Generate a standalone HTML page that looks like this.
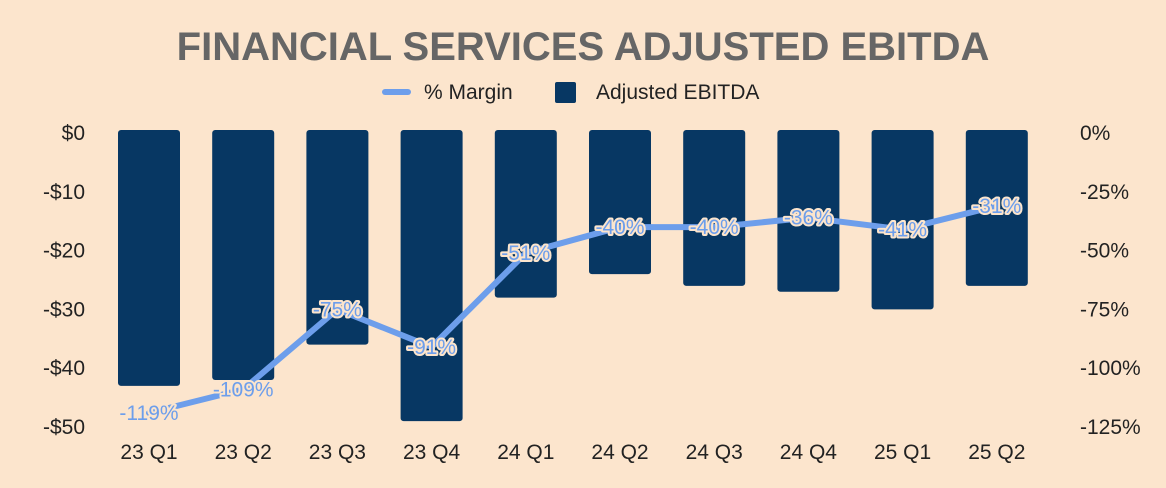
<!DOCTYPE html>
<html><head><meta charset="utf-8"><style>
body{margin:0;background:#fce5cd;}
svg{display:block;font-family:"Liberation Sans",sans-serif;}
</style></head><body>
<svg id="c" width="1166" height="488">
<rect width="1166" height="488" fill="#fce5cd"/>
<text x="583" y="60" text-anchor="middle" font-size="40" font-weight="bold" fill="#666666">FINANCIAL SERVICES ADJUSTED EBITDA</text>
<g>
<g><line x1="385" y1="92" x2="408" y2="92" stroke="#6d9eeb" stroke-width="6" stroke-linecap="round"/><text x="424" y="99" font-size="21" fill="#222">% Margin</text></g>
<g><rect x="555" y="82" width="21" height="21" rx="2" fill="#073763"/><text x="596" y="99" font-size="21" fill="#222">Adjusted EBITDA</text></g>
</g>
<g id="plot"></g>
</svg>
<script>
const categories=["23 Q1","23 Q2","23 Q3","23 Q4","24 Q1","24 Q2","24 Q3","24 Q4","25 Q1","25 Q2"];
const ebitda=[-43,-42,-36,-49,-28,-24,-26,-27,-30,-26];
const margin=[-119,-109,-75,-91,-51,-40,-40,-36,-41,-31];
const leftTicks=[0,-10,-20,-30,-40,-50];
const rightTicks=[0,-25,-50,-75,-100,-125];
const NS="http://www.w3.org/2000/svg";
const g=document.getElementById('plot');
const top0=133,bot=427;
const yL=v=>top0+(v/-50)*(bot-top0);
const yR=v=>top0+(v/-125)*(bot-top0);
const xC=i=>149+i*94.2;
function mk(t,a,p){const e=document.createElementNS(NS,t);for(const k in a)e.setAttribute(k,a[k]);(p||g).appendChild(e);return e;}
leftTicks.forEach(v=>{const t=mk('text',{x:85,y:yL(v)+7,'text-anchor':'end','font-size':21,fill:'#222'});t.textContent=(v<0?'-$':'$')+Math.abs(v);

});
rightTicks.forEach(v=>{const t=mk('text',{x:1080,y:yR(v)+7,'font-size':21,fill:'#222'});t.textContent=v+'%';

});
categories.forEach((c,i)=>{const t=mk('text',{x:xC(i),y:459,'text-anchor':'middle','font-size':21,fill:'#222'});t.textContent=c;

});
ebitda.forEach((v,i)=>{const h=yL(v)-top0;const r=mk('rect',{x:xC(i)-31,y:top0-3,width:62,height:h+3,rx:3,fill:'#073763'});

});
const pts=margin.map((v,i)=>xC(i)+','+yR(v)).join(' ');
const pl=mk('polyline',{points:pts,fill:'none',stroke:'#6d9eeb','stroke-width':6,'stroke-linejoin':'round','stroke-linecap':'round'});


margin.forEach((v,i)=>{
const s=mk('text',{x:xC(i),y:yR(v)+7,'text-anchor':'middle','font-size':21,fill:'#fce5cd',stroke:'#fce5cd','stroke-width':4,'stroke-linejoin':'round'});s.textContent=v+'%';


const t=mk('text',{x:xC(i),y:yR(v)+7,'text-anchor':'middle','font-size':21,fill:'#6d9eeb'});t.textContent=v+'%';

});
</script>
</body></html>
